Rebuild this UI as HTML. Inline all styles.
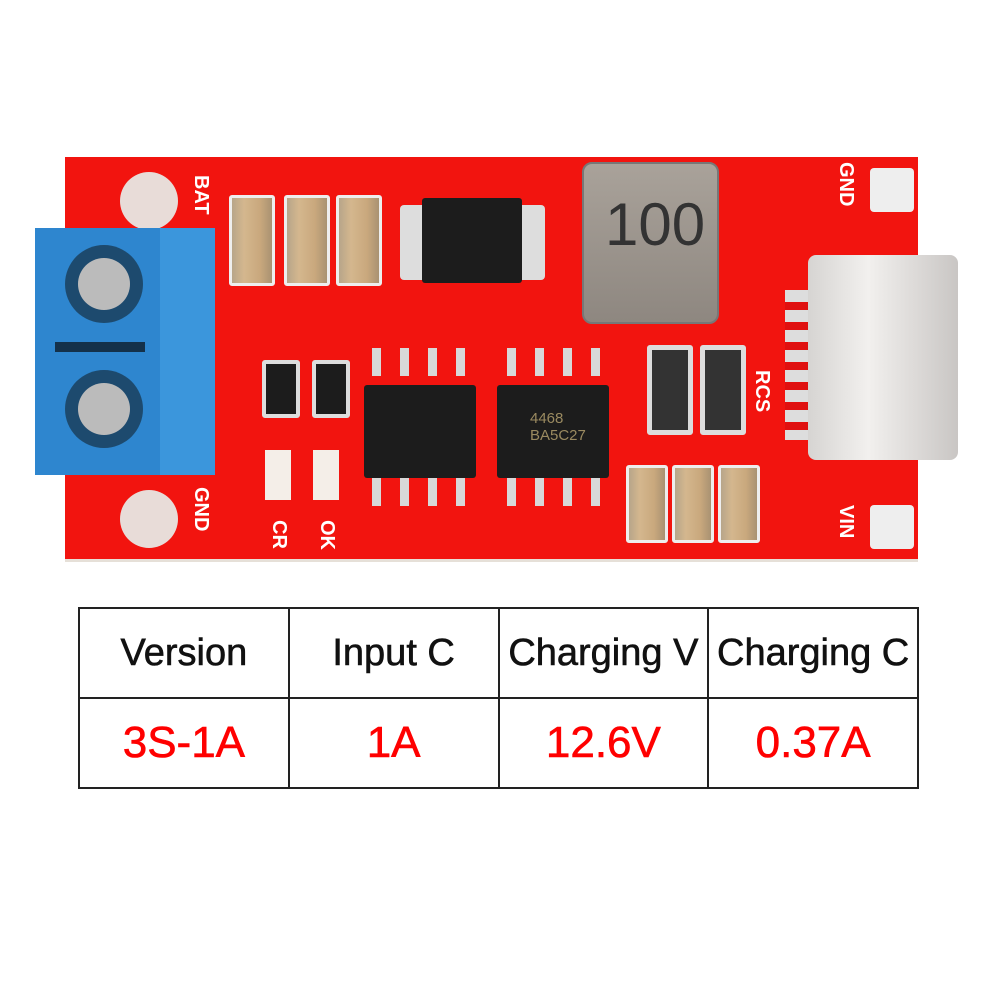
<!DOCTYPE html><html><head><style>
body{margin:0;width:1002px;height:1002px;background:#fff;position:relative;overflow:hidden;font-family:"Liberation Sans",sans-serif}
.a{position:absolute}
.pcb{left:65px;top:157px;width:853px;height:402px;background:#f2140f;border-bottom:3px solid #e6e0d8}
.cap{background:linear-gradient(90deg,#b7a58a,#d4b78e 30%,#c9a87d 70%,#a99272);border:3px solid #eee;border-radius:3px}
.ic{background:#1c1c1c;border-radius:3px}
.pin{background:#d8d8d8;width:9px;height:28px}
.wt{color:#fff;font-weight:bold;font-size:20px}
table{position:absolute;left:78px;top:607px;border-collapse:collapse;table-layout:fixed;width:841px}
td{border:2px solid #222;text-align:center;font-size:38px;padding:0;white-space:nowrap;-webkit-text-stroke:0.6px currentColor}
.r1 td{height:88px;color:#111}
.r2 td{height:88px;color:#f00;font-size:44px}
</style></head><body>
<div class="a pcb"></div>
<div class="a" style="left:120px;top:172px;width:58px;height:58px;border-radius:50%;background:#e8dcd8"></div>
<div class="a" style="left:120px;top:490px;width:58px;height:58px;border-radius:50%;background:#e8dcd8"></div>
<div class="a" style="left:870px;top:168px;width:44px;height:44px;background:#eee;border-radius:4px"></div>
<div class="a" style="left:870px;top:505px;width:44px;height:44px;background:#eee;border-radius:4px"></div>
<div class="a wt" style="top:175px;transform:rotate(90deg);transform-origin:left top;left:212px">BAT</div>
<div class="a wt" style="left:212px;top:487px;transform:rotate(90deg);transform-origin:left top">GND</div>
<div class="a wt" style="top:520px;transform:rotate(90deg);transform-origin:left top;left:290px">CR</div>
<div class="a wt" style="left:338px;top:520px;transform:rotate(90deg);transform-origin:left top">OK</div>
<div class="a wt" style="left:857px;top:162px;transform:rotate(90deg);transform-origin:left top">GND</div>
<div class="a wt" style="left:773px;top:370px;transform:rotate(90deg);transform-origin:left top">RCS</div>
<div class="a wt" style="left:857px;top:505px;transform:rotate(90deg);transform-origin:left top">VIN</div>
<div class="a" style="left:35px;top:228px;width:180px;height:247px;background:#2e86cf"></div>
<div class="a" style="left:160px;top:228px;width:55px;height:247px;background:#3b96dc"></div>
<div class="a" style="left:65px;top:245px;width:78px;height:78px;border-radius:50%;background:#1d4a6e"></div>
<div class="a" style="left:78px;top:258px;width:52px;height:52px;border-radius:50%;background:#bbb"></div>
<div class="a" style="left:65px;top:370px;width:78px;height:78px;border-radius:50%;background:#1d4a6e"></div>
<div class="a" style="left:78px;top:383px;width:52px;height:52px;border-radius:50%;background:#bbb"></div>
<div class="a" style="left:55px;top:342px;width:90px;height:10px;background:#14314a"></div>
<div class="a cap" style="left:229px;top:195px;width:40px;height:85px"></div>
<div class="a cap" style="left:284px;top:195px;width:40px;height:85px"></div>
<div class="a cap" style="left:336px;top:195px;width:40px;height:85px"></div>
<div class="a cap" style="left:626px;top:465px;width:36px;height:72px"></div>
<div class="a cap" style="left:672px;top:465px;width:36px;height:72px"></div>
<div class="a cap" style="left:718px;top:465px;width:36px;height:72px"></div>
<div class="a" style="left:400px;top:205px;width:145px;height:75px;background:#ddd;border-radius:4px"></div>
<div class="a ic" style="left:422px;top:198px;width:100px;height:85px"></div>
<div class="a" style="left:582px;top:162px;width:133px;height:158px;background:linear-gradient(#a9a29a,#8e8780);border-radius:10px;border:2px solid #777"></div>
<div class="a" style="left:605px;top:190px;font-size:60px;color:#333">100</div>
<div class="a ic" style="left:262px;top:360px;width:30px;height:50px;border:4px solid #ddd"></div>
<div class="a ic" style="left:312px;top:360px;width:30px;height:50px;border:4px solid #ddd"></div>
<div class="a ic" style="left:647px;top:345px;width:36px;height:80px;border:5px solid #ddd;background:#333"></div>
<div class="a ic" style="left:700px;top:345px;width:36px;height:80px;border:5px solid #ddd;background:#333"></div>
<div class="a" style="left:265px;top:450px;width:26px;height:50px;background:#f4eee8"></div>
<div class="a" style="left:313px;top:450px;width:26px;height:50px;background:#f4eee8"></div>
<div class="a ic" style="left:364px;top:385px;width:112px;height:93px"></div>
<div class="a ic" style="left:497px;top:385px;width:112px;height:93px"></div>
<div class="a pin" style="left:372px;top:348px"></div><div class="a pin" style="left:400px;top:348px"></div><div class="a pin" style="left:428px;top:348px"></div><div class="a pin" style="left:456px;top:348px"></div>
<div class="a pin" style="left:372px;top:478px"></div><div class="a pin" style="left:400px;top:478px"></div><div class="a pin" style="left:428px;top:478px"></div><div class="a pin" style="left:456px;top:478px"></div>
<div class="a pin" style="left:507px;top:348px"></div><div class="a pin" style="left:535px;top:348px"></div><div class="a pin" style="left:563px;top:348px"></div><div class="a pin" style="left:591px;top:348px"></div>
<div class="a pin" style="left:507px;top:478px"></div><div class="a pin" style="left:535px;top:478px"></div><div class="a pin" style="left:563px;top:478px"></div><div class="a pin" style="left:591px;top:478px"></div>
<div class="a" style="left:530px;top:410px;color:#9a8a60;font-size:15px">4468<br>BA5C27</div>
<div class="a" style="left:785px;top:290px;width:30px;height:150px;background:repeating-linear-gradient(#ddd 0 12px,#e01010 12px 20px)"></div>
<div class="a" style="left:808px;top:255px;width:150px;height:205px;background:linear-gradient(90deg,#d6d4d2,#f2f0ee 40%,#c9c6c4);border-radius:8px"></div>
<table><tr class="r1"><td>Version</td><td>Input C</td><td>Charging V</td><td>Charging C</td></tr>
<tr class="r2"><td>3S-1A</td><td>1A</td><td>12.6V</td><td>0.37A</td></tr></table>
</body></html>
